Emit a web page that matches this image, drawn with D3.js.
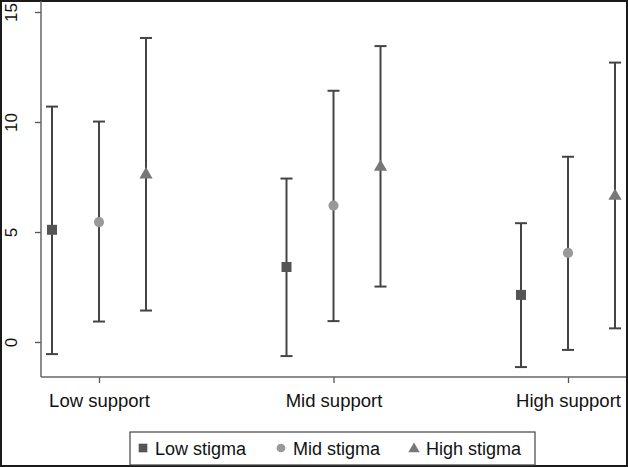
<!DOCTYPE html>
<html><head><meta charset="utf-8">
<script src="https://cdn.jsdelivr.net/npm/d3@7/dist/d3.min.js"></script>
<style>body{margin:0;background:#fff}svg{display:block}</style>
</head><body><svg id="c" width="628" height="467"></svg>
<script>
const categories = ["Low support", "Mid support", "High support"];
const series = ["Low stigma", "Mid stigma", "High stigma"];
const means = [[5.1, 3.41, 2.14], [5.45, 6.2, 4.05], [7.65, 8.0, 6.68]];
const lowerCI = [[-0.55, -0.64, -1.14], [0.93, 0.95, -0.36], [1.43, 2.52, 0.62]];
const upperCI = [[10.7, 7.43, 5.4], [10.02, 11.42, 8.42], [13.82, 13.45, 12.7]];
const yTicks = [0, 5, 10, 15];

const svg = d3.select("#c");
const font = "'Liberation Sans', Arial, sans-serif";
const x = d3.scalePoint().domain(categories).range([99, 568]);
const off = d3.scalePoint().domain(series).range([-47, 47]);
const y = d3.scaleLinear().domain([0, 15]).range([342, 12]);

// image frame
svg.append("rect").attr("x",1).attr("y",1).attr("width",626).attr("height",465)
  .attr("fill","#fff").attr("stroke","#1a1a1a").attr("stroke-width",2);

// axes
const yAxis = svg.append("g").attr("transform","translate(41,0)")
  .call(d3.axisLeft(y).tickValues(yTicks).tickSize(6).tickSizeOuter(0).tickFormat(d3.format("d")));
yAxis.select(".domain").remove();
yAxis.selectAll(".tick line").attr("stroke","#555").attr("stroke-width",1.3);
yAxis.selectAll(".tick text").attr("transform","rotate(-90)").attr("x",0).attr("y",-24)
  .attr("dy","0").attr("text-anchor","middle").style("font-family",font).style("font-size","17px").attr("fill","#111");
svg.append("line").attr("x1",41).attr("x2",41).attr("y1",1).attr("y2",377).attr("stroke","#666").attr("stroke-width",1.5);

const xAxis = svg.append("g").attr("transform","translate(0,377)")
  .call(d3.axisBottom(x).tickSize(6).tickSizeOuter(0));
xAxis.select(".domain").remove();
xAxis.selectAll(".tick line").attr("stroke","#555").attr("stroke-width",1.3);
xAxis.selectAll(".tick text").attr("y",30).attr("dy","0").style("font-family",font).style("font-size","18.5px").attr("fill","#111");
svg.append("line").attr("x1",41).attr("x2",626).attr("y1",377).attr("y2",377).attr("stroke","#666").attr("stroke-width",1.5);

const colors = ["#555555", "#999999", "#777777"];
const symbols = [d3.symbolSquare, d3.symbolCircle, d3.symbolTriangle];
const sizes = [100, 80, 75];

series.forEach((s, si) => {
  categories.forEach((c, ci) => {
    const cx = x(c) + off(s);
    const g = svg.append("g");
    g.append("line").attr("x1",cx).attr("x2",cx).attr("y1",y(lowerCI[si][ci])).attr("y2",y(upperCI[si][ci]))
      .attr("stroke","#444").attr("stroke-width",2);
    [lowerCI[si][ci], upperCI[si][ci]].forEach(v => {
      g.append("line").attr("x1",cx-6).attr("x2",cx+6).attr("y1",y(v)).attr("y2",y(v))
        .attr("stroke","#444").attr("stroke-width",2);
    });
    g.append("path").attr("d", d3.symbol().type(symbols[si]).size(sizes[si])())
      .attr("transform",`translate(${cx},${y(means[si][ci]) + (si===2?1:0)})`).attr("fill",colors[si]);
  });
});

// legend
const lg = svg.append("g");
lg.append("rect").attr("x",130).attr("y",432).attr("width",405).attr("height",33)
  .attr("fill","#fff").attr("stroke","#444").attr("stroke-width",1.2);
const lx = [143, 281, 414];
series.forEach((s, si) => {
  lg.append("path").attr("d", d3.symbol().type(symbols[si]).size(sizes[si]*0.75)())
    .attr("transform",`translate(${lx[si]},${448 + (si===2?1:0)})`).attr("fill",colors[si]);
  lg.append("text").attr("x",lx[si]+12).attr("y",455).text(s)
    .style("font-family",font).style("font-size","18px").attr("fill","#111");
});
</script></body></html>
